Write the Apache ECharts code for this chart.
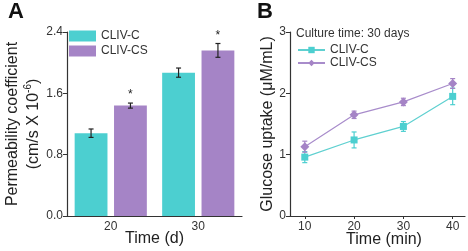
<!DOCTYPE html>
<html>
<head>
<meta charset="utf-8">
<script src="https://cdn.jsdelivr.net/npm/echarts@6/dist/echarts.min.js"></script>
<style>
  html, body { margin: 0; padding: 0; background: #fff; }
  #chart { width: 468px; height: 251px; }
</style>
</head>
<body>
<div id="chart"></div>
<script>
// panel A: permeability bars
const barCats = ['20', '30'];
const barC = [1.08, 1.87];
const barCErr = [0.055, 0.06];
const barCS = [1.44, 2.16];
const barCSErr = [0.033, 0.09];
const barSig = ['*', '*'];

// panel B: glucose uptake
const timeMin = [10, 20, 30, 40];
const glucC = [0.96, 1.24, 1.46, 1.95];
const glucCErr = [0.09, 0.13, 0.08, 0.135];
const glucCS = [1.13, 1.65, 1.86, 2.16];
const glucCSErr = [0.09, 0.06, 0.06, 0.08];

const cyan = '#4ccfd0';
const purple = '#a584c6';
const cyanLine = '#5fd0d0';
const purpleLine = '#a88ccb';
const axisColor = '#333';
const font = 'Liberation Sans';

const barWidthFrac = 0.375;
const barGapFrac = 0.2;

function errorBars(color, shift, marks) {
    return function (params, api) {
        const band = api.size([1, 0])[0];
        const off = shift * band * barWidthFrac * (1 + barGapFrac) / 2;
        const v = api.value(1), e = api.value(2);
        const top = api.coord([api.value(0), v + e]);
        const bot = api.coord([api.value(0), v - e]);
        const x = top[0] + off;
        const cap = 2.5;
        const st = { stroke: color, lineWidth: 1.2 };
        const kids = [
            { type: 'line', shape: { x1: x, y1: top[1], x2: x, y2: bot[1] }, style: st },
            { type: 'line', shape: { x1: x - cap, y1: top[1], x2: x + cap, y2: top[1] }, style: st },
            { type: 'line', shape: { x1: x - cap, y1: bot[1], x2: x + cap, y2: bot[1] }, style: st }
        ];
        if (marks && marks[params.dataIndex]) {
            kids.push({
                type: 'text',
                style: {
                    text: marks[params.dataIndex], x: x, y: top[1] - 2,
                    align: 'center', verticalAlign: 'bottom',
                    fill: '#222', font: '12px ' + font
                }
            });
        }
        return { type: 'group', children: kids };
    };
}

function pack(xs, vals, errs) {
    return vals.map((v, i) => [xs[i], v, errs[i]]);
}

const chart = echarts.init(document.getElementById('chart'));
chart.setOption({
    animation: false,
    textStyle: { fontFamily: font },
    title: [
        { text: 'A', left: 3, top: -4, textStyle: { fontSize: 22, fontWeight: 'bold', color: '#111', fontFamily: font } },
        { text: 'B', left: 252, top: -4, textStyle: { fontSize: 22, fontWeight: 'bold', color: '#111', fontFamily: font } },
        { text: 'Culture time: 30 days', left: 296, top: 28, padding: 0, textStyle: { fontSize: 12, fontWeight: 'normal', color: '#333', fontFamily: font } }
    ],
    legend: [
        {
            data: ['CLIV-C', 'CLIV-CS'], left: 69, top: 30, orient: 'vertical', padding: 0,
            itemWidth: 27, itemHeight: 11, itemGap: 3, icon: 'rect',
            textStyle: { fontSize: 12, color: '#333', fontFamily: font }
        },
        {
            data: ['CLIV-C ', 'CLIV-CS '], left: 297, top: 44, orient: 'vertical', padding: 0,
            itemWidth: 27, itemHeight: 8, itemGap: 1,
            formatter: n => n.trim(),
            textStyle: { fontSize: 12, color: '#333', fontFamily: font }
        }
    ],
    grid: [
        { left: 67, top: 32, width: 175, height: 184, outerBoundsMode: 'none', containLabel: false },
        { left: 290, top: 32, width: 175, height: 184, outerBoundsMode: 'none', containLabel: false }
    ],
    xAxis: [
        {
            gridIndex: 0, type: 'category', data: barCats,
            name: 'Time (d)', nameLocation: 'middle', nameGap: 15, nameMoveOverlap: false,
            nameTextStyle: { fontSize: 16, color: '#222', fontFamily: font, verticalAlign: 'top' },
            axisLine: { lineStyle: { color: axisColor, width: 1.2 } },
            axisTick: { alignWithLabel: true, length: 3, lineStyle: { color: axisColor } },
            axisLabel: { fontSize: 12, color: '#333', margin: 5 }
        },
        {
            gridIndex: 1, type: 'value', min: 7, max: 42.5,
            name: 'Time (min)', nameLocation: 'middle', nameGap: 16, nameMoveOverlap: false,
            nameTextStyle: { fontSize: 16, color: '#222', fontFamily: font, verticalAlign: 'top', padding: [0, 0, 0, 13] },
            splitLine: { show: false },
            axisLine: { show: true, lineStyle: { color: axisColor, width: 1.2 } },
            axisTick: { show: true, length: 3, customValues: timeMin, lineStyle: { color: axisColor } },
            axisLabel: { fontSize: 12, color: '#333', margin: 5, customValues: timeMin }
        }
    ],
    yAxis: [
        {
            gridIndex: 0, type: 'value', min: 0, max: 2.4, interval: 0.8,
            name: '{a|Permeability coefficient}\n{a|(cm/s X 10}{s|-6}{a|)}',
            nameLocation: 'middle', nameRotate: 90, nameGap: 23,
            nameTextStyle: {
                rich: {
                    a: { fontSize: 16, color: '#222', fontFamily: font, lineHeight: 21 },
                    s: { fontSize: 10, color: '#222', fontFamily: font, verticalAlign: 'top', lineHeight: 21 }
                }
            },
            splitLine: { show: false },
            axisLine: { show: true, lineStyle: { color: axisColor, width: 1.2 } },
            axisTick: { show: true, length: 4, lineStyle: { color: axisColor } },
            axisLabel: { fontSize: 12, color: '#333', margin: 4, formatter: v => v.toFixed(1) }
        },
        {
            gridIndex: 1, type: 'value', min: 0, max: 3, interval: 1,
            name: 'Glucose uptake (\u03bcM/mL)', nameLocation: 'middle', nameGap: 11,
            nameTextStyle: { fontSize: 16, color: '#222', fontFamily: font },
            splitLine: { show: false },
            axisLine: { show: true, lineStyle: { color: axisColor, width: 1.2 } },
            axisTick: { show: true, length: 4, lineStyle: { color: axisColor } },
            axisLabel: { fontSize: 12, color: '#333', margin: 4 }
        }
    ],
    series: [
        {
            name: 'CLIV-C', type: 'bar', xAxisIndex: 0, yAxisIndex: 0, data: barC,
            barWidth: (barWidthFrac * 100) + '%', barGap: (barGapFrac * 100) + '%',
            itemStyle: { color: cyan }
        },
        {
            name: 'CLIV-CS', type: 'bar', xAxisIndex: 0, yAxisIndex: 0, data: barCS,
            barWidth: (barWidthFrac * 100) + '%', barGap: (barGapFrac * 100) + '%',
            itemStyle: { color: purple }
        },
        {
            type: 'custom', xAxisIndex: 0, yAxisIndex: 0, z: 5,
            data: pack([0, 1], barC, barCErr), encode: { x: 0, y: 1 },
            renderItem: errorBars('#222', -1, null)
        },
        {
            type: 'custom', xAxisIndex: 0, yAxisIndex: 0, z: 5,
            data: pack([0, 1], barCS, barCSErr), encode: { x: 0, y: 1 },
            renderItem: errorBars('#222', 1, barSig)
        },
        {
            name: 'CLIV-C ', type: 'line', xAxisIndex: 1, yAxisIndex: 1,
            data: timeMin.map((t, i) => [t, glucC[i]]),
            symbol: 'rect', symbolSize: 7,
            lineStyle: { color: cyanLine, width: 1.2 }, itemStyle: { color: cyan }
        },
        {
            name: 'CLIV-CS ', type: 'line', xAxisIndex: 1, yAxisIndex: 1,
            data: timeMin.map((t, i) => [t, glucCS[i]]),
            symbol: 'diamond', symbolSize: 9,
            lineStyle: { color: purpleLine, width: 1.2 }, itemStyle: { color: purple }
        },
        {
            type: 'custom', xAxisIndex: 1, yAxisIndex: 1, z: 5,
            data: pack(timeMin, glucC, glucCErr), encode: { x: 0, y: 1 },
            renderItem: errorBars(cyan, 0, null)
        },
        {
            type: 'custom', xAxisIndex: 1, yAxisIndex: 1, z: 5,
            data: pack(timeMin, glucCS, glucCSErr), encode: { x: 0, y: 1 },
            renderItem: errorBars(purple, 0, null)
        }
    ]
});
</script>
</body>
</html>
